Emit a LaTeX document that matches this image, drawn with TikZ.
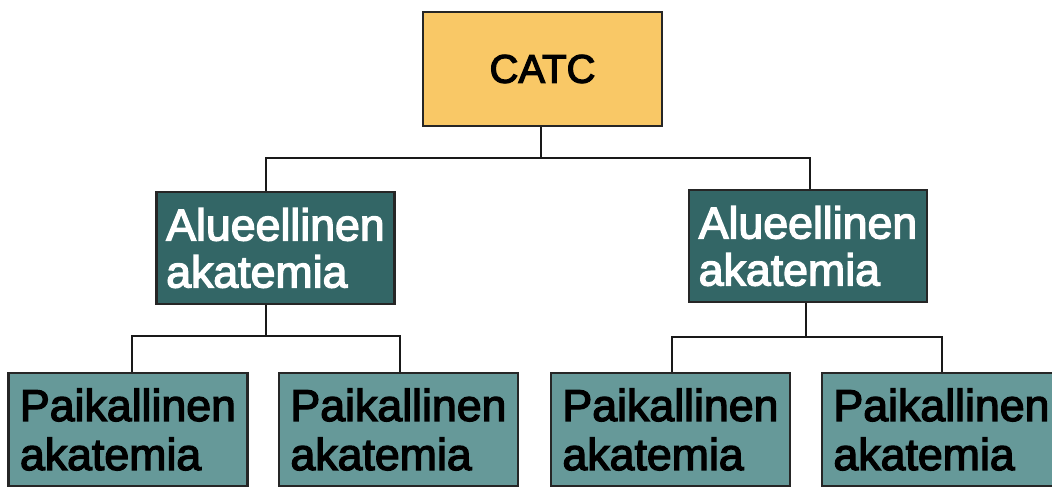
\documentclass[tikz,border=0pt]{standalone}
\usepackage{fontspec}
\setmainfont{Liberation Sans}
\newfontfamily\boxfont{Liberation Sans}[FakeBold=3]
\definecolor{catcfill}{HTML}{F9C866}
\definecolor{alfill}{HTML}{336666}
\definecolor{pafill}{HTML}{669999}
\begin{document}
\begin{tikzpicture}[x=0.75pt,y=-0.75pt,
  box/.style={draw=black!85, line width=2pt, rectangle, inner sep=0pt, align=left},
  catcbox/.style={box, fill=catcfill, minimum width=239*0.75pt, minimum height=114*0.75pt,
     font=\boxfont\fontsize{30}{36}\selectfont},
  albox/.style={box, fill=alfill, text=white, minimum width=238*0.75pt, minimum height=112*0.75pt,
     font=\boxfont\fontsize{33.5}{35.25}\selectfont},
  pabox/.style={box, fill=pafill, text=black, minimum width=239*0.75pt, minimum height=113*0.75pt,
     font=\boxfont\fontsize{33.5}{36.75}\selectfont},
  conn/.style={draw=black!90, line width=1.8pt}]
\useasboundingbox (0,0) rectangle (1052,487);
\fill[white] (0,0) rectangle (1052,487);

\node[catcbox] (catc) at (542.5,69) {CATC};
\node[albox] (alL) at (275.5,248) {Alueellinen\\akatemia};
\node[albox] (alR) at (808,246) {Alueellinen\\akatemia};
\node[pabox] (p1) at (128,429.5) {Paikallinen\\akatemia};
\node[pabox] (p2) at (398.5,429.5) {Paikallinen\\akatemia};
\node[pabox] (p3) at (670.5,429.5) {Paikallinen\\akatemia};
\node[pabox] (p4) at (941.5,429.5) {Paikallinen\\akatemia};

\coordinate (busT) at (541,158);
\coordinate (xL) at (266,0);
\coordinate (xR) at (810,0);
\coordinate (busL) at (266,336);
\coordinate (busR) at (806,337);
\coordinate (x1) at (132,0);
\coordinate (x2) at (400,0);
\coordinate (x3) at (672,0);
\coordinate (x4) at (942,0);

\draw[conn] (catc.south -| busT) -- (busT);
\draw[conn] (alL.north -| xL) |- (busT) -| (alR.north -| xR);
\draw[conn] (alL.south -| busL) -- (busL);
\draw[conn] (p1.north -| x1) |- (busL) -| (p2.north -| x2);
\draw[conn] (alR.south -| busR) -- (busR);
\draw[conn] (p3.north -| x3) |- (busR) -| (p4.north -| x4);
\end{tikzpicture}
\end{document}
